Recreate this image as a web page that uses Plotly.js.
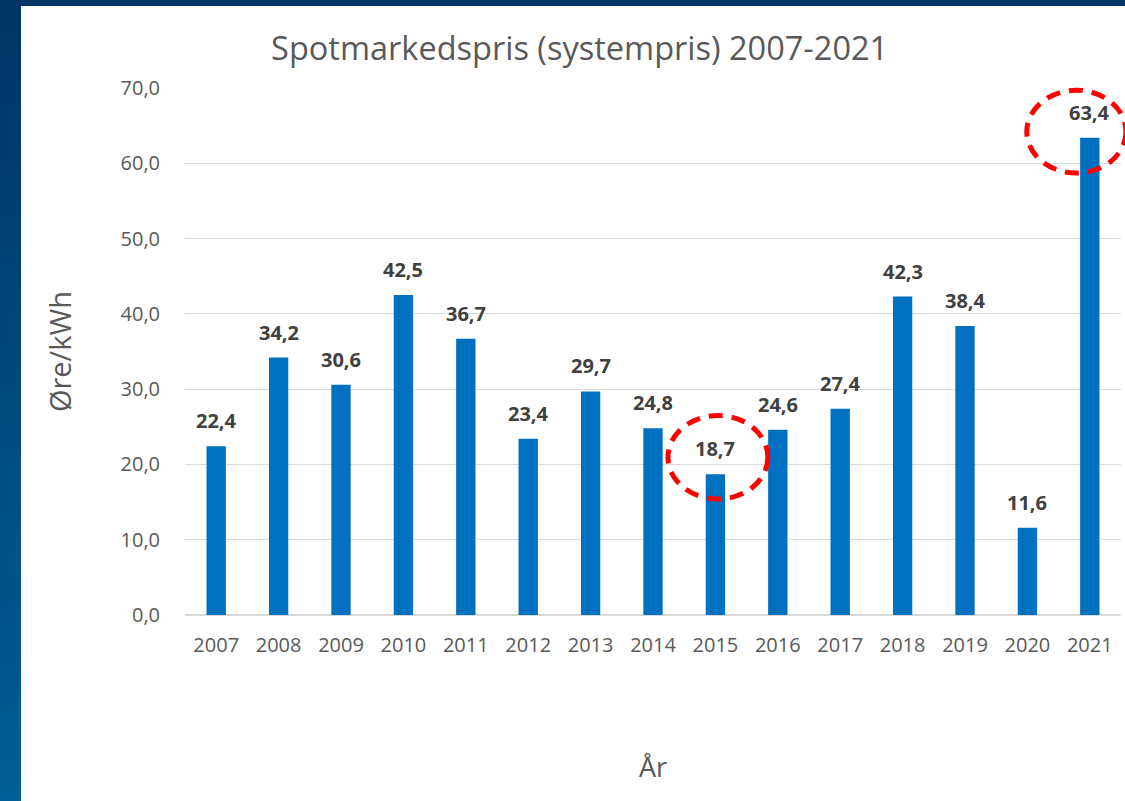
<!DOCTYPE html>
<html><head><meta charset="utf-8">
<script src="https://cdn.plot.ly/plotly-3.0.1.min.js"></script>
<style>
html,body{margin:0;padding:0;width:1125px;height:801px;overflow:hidden;}
body{background:linear-gradient(180deg,#003366 0%,#004a7e 50%,#005e94 100%);}
#chart{position:absolute;left:21px;top:6px;width:1104px;height:795px;background:#fff;}
</style></head>
<body><div id="chart"></div>
<script>
const years = ['2007','2008','2009','2010','2011','2012','2013','2014','2015','2016','2017','2018','2019','2020','2021'];
const prices = [22.4,34.2,30.6,42.5,36.7,23.4,29.7,24.8,18.7,24.6,27.4,42.3,38.4,11.6,63.4];
const yTicks = [0,10,20,30,40,50,60,70];
const highlighted = ['2015','2021'];

const fmt = v => v.toFixed(1).replace('.', ',');
const idx = years.map((_,i)=>i);
const xMin = -0.5, xMax = years.length - 0.5, yMin = 0, yMax = 70;

const trace = {
  type:'bar', x:idx, y:prices,
  marker:{color:'#0070C0'},
  hoverinfo:'y'
};

const annotations = idx.map(i=>({
  x:i, y:prices[i], xref:'x', yref:'y',
  text:'<b>'+fmt(prices[i])+'</b>', showarrow:false,
  yanchor:'bottom', yshift:10,
  font:{family:'Open Sans, sans-serif', size:20, color:'#404040'}
}));

// ellipse extents relative to the highlighted bar (style only)
const ellipseStyle = {
  '2015': {dx0:-0.76, dx1:0.84, dy0:-3.3, dy1:7.8},
  '2021': {dx0:-1.01, dx1:0.58, dy0:-4.7, dy1:6.3}
};
const px = v => (v - xMin)/(xMax - xMin);
const py = v => (v - yMin)/(yMax - yMin);
const shapes = highlighted.map(yr=>{
  const i = years.indexOf(yr);
  const v = prices[i];
  const s = ellipseStyle[yr];
  return {type:'circle', xref:'paper', yref:'paper',
    x0:px(i+s.dx0), x1:px(i+s.dx1), y0:py(v+s.dy0), y1:py(v+s.dy1),
    line:{color:'#FF0000', width:5, dash:'14px,9px'}, fillcolor:'rgba(0,0,0,0)'};
});

const layout = {
  width:1104, height:795,
  paper_bgcolor:'#fff', plot_bgcolor:'#fff',
  margin:{l:164, r:4, t:82, b:186},
  title:{text:'Spotmarkedspris (systempris) 2007-2021', x:0.506, xanchor:'center', y:0.947, yanchor:'middle',
    font:{family:'Open Sans, sans-serif', size:32.5, color:'#595959'}},
  bargap:0.69,
  showlegend:false,
  xaxis:{range:[xMin,xMax], tickvals:idx, ticktext:years,
    tickfont:{family:'Open Sans, sans-serif', size:20, color:'#595959'},
    showline:false, ticks:'outside', ticklen:12, tickcolor:'rgba(0,0,0,0)', showgrid:false, zeroline:false, automargin:false,
    title:{text:'År', font:{family:'Open Sans, sans-serif', size:27, color:'#595959'}, standoff:101}},
  yaxis:{range:[yMin,yMax], tickvals:yTicks, ticktext:yTicks.map(fmt),
    tickfont:{family:'Open Sans, sans-serif', size:20, color:'#595959'},
    gridcolor:'#D9D9D9', gridwidth:1, zeroline:true, zerolinecolor:'#D9D9D9', zerolinewidth:1.5,
    showline:false, ticks:'outside', ticklen:20, tickcolor:'rgba(0,0,0,0)', automargin:false,
    title:{text:'Øre/kWh', font:{family:'Open Sans, sans-serif', size:29, color:'#595959'}, standoff:40}},
  annotations:annotations,
  shapes:shapes
};
Plotly.newPlot('chart',[trace],layout,{displayModeBar:false, staticPlot:true});
</script></body></html>
